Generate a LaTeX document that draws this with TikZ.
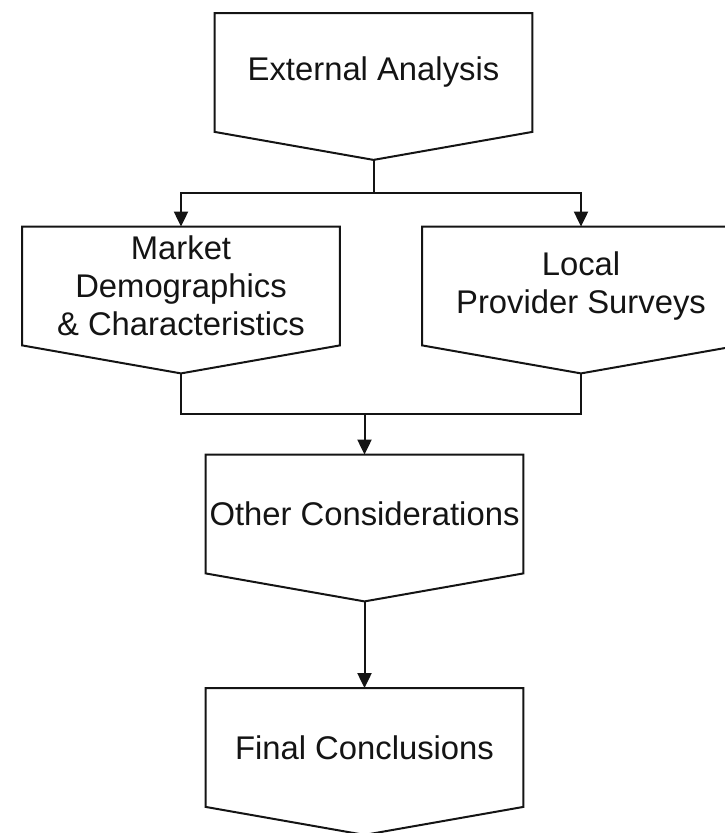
\documentclass[tikz,border=0pt]{standalone}
\usepackage{fontspec}
\setmainfont{Liberation Sans}
\usepackage{tikz}
\usepackage{xcolor}
\usetikzlibrary{arrows.meta,positioning,calc}
\definecolor{ink}{RGB}{20,20,20}

\tikzset{
  stage/.style={rectangle,inner sep=0pt,minimum width=158.5pt,minimum height=59pt,
    align=center,font=\fontsize{16.4}{19}\selectfont,text=ink},
  outline/.style={draw=ink,line width=1pt,line join=miter},
  wire/.style={draw=ink,line width=1pt},
  flow/.style={wire,-{Triangle[width=7pt,length=7.5pt]}}
}

\begin{document}
\begin{tikzpicture}[x=0.5pt,y=-0.5pt]
  \useasboundingbox (0,0) rectangle (724,833);

  \node[stage] (ext) at (373.5,72.5) {External Analysis};
  \node[stage] (mkt) at (181,286) {Market\\Demographics\\\& Characteristics};
  \node[stage] (loc) at (581,286) {Local\\Provider Surveys};
  \node[stage] (oth) at (364.5,514) {Other Considerations};
  \node[stage] (fin) at (364.5,747.5) {Final Conclusions};

  % boxes with the point at the bottom
  \foreach \n in {ext,mkt,loc,oth,fin} {
    \coordinate (\n-tip) at ([yshift=-14pt]\n.south);
    \draw[outline] (\n.north west) -- (\n.north east) -- (\n.south east)
      -- (\n-tip) -- (\n.south west) -- cycle;
  }

  \coordinate (fork) at ($(ext-tip)+(0,33)$);
  \coordinate (join) at ($(oth.north)+(0,-41)$);

  \draw[wire] (ext-tip) -- (fork);
  \draw[flow] (fork) -| (mkt.north);
  \draw[flow] (fork) -| (loc.north);
  \draw[wire] (mkt-tip) |- (join) -| (loc-tip);
  \draw[flow] (join) -- (oth.north);
  \draw[flow] (oth-tip) -- (fin.north);
\end{tikzpicture}
\end{document}
